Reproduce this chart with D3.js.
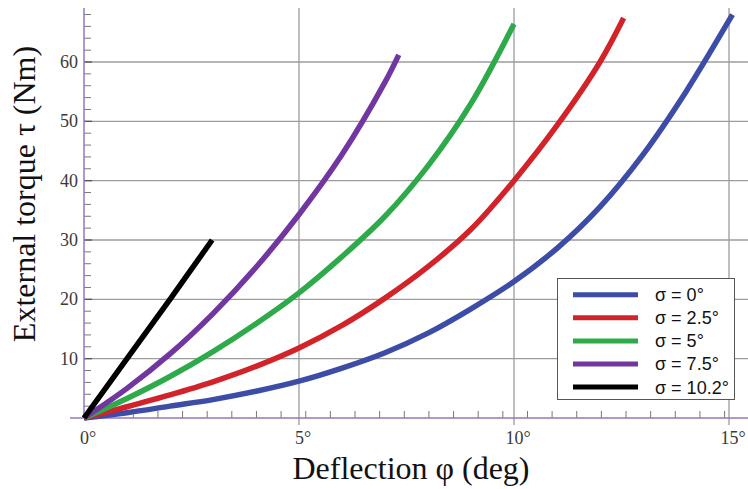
<!DOCTYPE html>
<html>
<head>
<meta charset="utf-8">
<script src="https://d3js.org/d3.v7.min.js"></script>
<style>
  body { margin: 0; background: #fff; }
  svg { display: block; }
</style>
</head>
<body>
<svg id="svg" width="748" height="489"></svg>
<script>
// curves, deflection phi (deg) -> torque tau (Nm)
var phi0 = [0, 1, 2, 3, 4, 5, 6, 7, 8, 9, 10, 11, 12, 13, 14, 15, 15.08];
var tau0 = [0, 0.9, 2.0, 3.1, 4.5, 6.2, 8.4, 11.0, 14.3, 18.4, 23.0, 28.6, 35.6, 44.4, 55.0, 67.0, 68];

var phi25 = [0, 1, 2, 3, 4, 5, 6, 7, 8, 9, 10, 11, 12, 12.55];
var tau25 = [0, 1.9, 3.9, 6.1, 8.7, 11.8, 15.6, 20.2, 25.5, 31.8, 40.0, 49.3, 60.0, 67.4];

var phi5 = [0, 1, 2, 3, 4, 5, 6, 7, 8, 9, 10];
var tau5 = [0, 3.3, 7.0, 11.2, 15.9, 21.1, 27.2, 34.0, 42.5, 53.0, 66.4];

var phi75 = [0, 1, 2, 3, 4, 5, 6, 7, 7.32];
var tau75 = [0, 5.0, 10.8, 17.6, 25.4, 34.3, 44.4, 56.6, 61.2];

var phi102 = [0, 1, 2, 2.98];
var tau102 = [0, 10, 20, 30];

var names = ['σ = 0°', 'σ = 2.5°', 'σ = 5°', 'σ = 7.5°', 'σ = 10.2°'];
var colors = ['#3d4ca7', '#d2232a', '#2faa4a', '#7236a0', '#000000'];

var xTicks = [0, 5, 10, 15];
var yTicks = [10, 20, 30, 40, 50, 60];

var series = [
  [phi0, tau0], [phi25, tau25], [phi5, tau5], [phi75, tau75], [phi102, tau102]
].map(function (s, i) {
  return {
    name: names[i],
    color: colors[i],
    pts: s[0].map(function (p, j) { return [p, s[1][j]]; })
  };
});

var svg = d3.select("#svg");

var x = d3.scaleLinear().domain([0, 15]).range([84, 729]);
var y = d3.scaleLinear().domain([0, 69.1]).range([418, 8]);

var axisPurple = '#9575c4';
var gridGray = '#9c9c9c';

// grid
var grid = svg.append("g");
grid.selectAll("line.v")
  .data(xTicks.filter(function (d) { return d > 0; }))
  .enter().append("line")
  .attr("x1", function (d) { return x(d); })
  .attr("x2", function (d) { return x(d); })
  .attr("y1", y(0) + 7)
  .attr("y2", y.range()[1])
  .attr("stroke", gridGray)
  .attr("stroke-width", 1.3);
grid.selectAll("line.h")
  .data(yTicks)
  .enter().append("line")
  .attr("x1", x(0))
  .attr("x2", 748)
  .attr("y1", function (d) { return y(d); })
  .attr("y2", function (d) { return y(d); })
  .attr("stroke", gridGray)
  .attr("stroke-width", 1.3);

// minor ticks: x every 0.01 rad, y every 2 Nm
var xMinor = d3.range(1, 27).map(function (k) { return k * 0.01 * 180 / Math.PI; });
var yMinor = d3.range(2, 69, 2).filter(function (d) { return d % 10 !== 0; });

svg.append("g").selectAll("line")
  .data(xMinor)
  .enter().append("line")
  .attr("x1", function (d) { return x(d); })
  .attr("x2", function (d) { return x(d); })
  .attr("y1", y(0))
  .attr("y2", y(0) - 7)
  .attr("stroke", "#777")
  .attr("stroke-width", 1);

svg.append("g").selectAll("line")
  .data(yMinor)
  .enter().append("line")
  .attr("x1", x(0))
  .attr("x2", x(0) + 7)
  .attr("y1", function (d) { return y(d); })
  .attr("y2", function (d) { return y(d); })
  .attr("stroke", "#777")
  .attr("stroke-width", 1);

// short dark ticks at the major y values
svg.append("g").selectAll("line")
  .data(yTicks)
  .enter().append("line")
  .attr("x1", x(0))
  .attr("x2", x(0) + 8)
  .attr("y1", function (d) { return y(d); })
  .attr("y2", function (d) { return y(d); })
  .attr("stroke", "#555")
  .attr("stroke-width", 1.3);

// axis lines
svg.append("line")
  .attr("x1", 70).attr("x2", 748)
  .attr("y1", y(0)).attr("y2", y(0))
  .attr("stroke", axisPurple).attr("stroke-width", 1.5);
svg.append("line")
  .attr("x1", x(0)).attr("x2", x(0))
  .attr("y1", y(0)).attr("y2", y.range()[1])
  .attr("stroke", axisPurple).attr("stroke-width", 1.5);

// tick labels
svg.append("g").selectAll("text")
  .data(xTicks)
  .enter().append("text")
  .attr("x", function (d) { return x(d) + 4; })
  .attr("y", 444)
  .attr("text-anchor", "middle")
  .attr("font-family", "'Liberation Serif', serif")
  .attr("font-size", 18)
  .attr("fill", "#3a3a3a")
  .text(function (d) { return d + "°"; });

svg.append("g").selectAll("text")
  .data(yTicks)
  .enter().append("text")
  .attr("x", 78)
  .attr("y", function (d) { return y(d); })
  .attr("dy", "0.33em")
  .attr("text-anchor", "end")
  .attr("font-family", "'Liberation Serif', serif")
  .attr("font-size", 18)
  .attr("fill", "#3a3a3a")
  .text(function (d) { return d; });

// axis titles
svg.append("text")
  .attr("x", 411)
  .attr("y", 479)
  .attr("text-anchor", "middle")
  .attr("font-family", "'Liberation Serif', serif")
  .attr("font-size", 32)
  .attr("fill", "#111")
  .text("Deflection φ (deg)");

svg.append("text")
  .attr("transform", "translate(35,194) rotate(-90)")
  .attr("text-anchor", "middle")
  .attr("font-family", "'Liberation Serif', serif")
  .attr("font-size", 32)
  .attr("fill", "#111")
  .text("External torque τ (Nm)");

// curves
var line = d3.line()
  .x(function (d) { return x(d[0]); })
  .y(function (d) { return y(d[1]); })
  .curve(d3.curveCatmullRom.alpha(0.5));

svg.append("g").selectAll("path")
  .data(series)
  .enter().append("path")
  .attr("d", function (d) { return line(d.pts); })
  .attr("fill", "none")
  .attr("stroke", function (d) { return d.color; })
  .attr("stroke-width", 5.5)
  .attr("stroke-linecap", "butt");

// legend
var lg = svg.append("g");
lg.append("rect")
  .attr("x", 557.5).attr("y", 278.5)
  .attr("width", 177).attr("height", 121)
  .attr("fill", "#fff")
  .attr("stroke", "#555")
  .attr("stroke-width", 1);

var rows = lg.selectAll("g.row")
  .data(series)
  .enter().append("g")
  .attr("transform", function (d, i) { return "translate(0," + (294.7 + i * 23.1) + ")"; });
rows.append("line")
  .attr("x1", 573).attr("x2", 638)
  .attr("stroke", function (d) { return d.color; })
  .attr("stroke-width", 5);
rows.append("text")
  .attr("x", 655)
  .attr("dy", "0.36em")
  .attr("font-family", "'Liberation Sans', Arial, sans-serif")
  .attr("font-size", 18)
  .attr("fill", "#111")
  .text(function (d) { return d.name; });
</script>
</body>
</html>
